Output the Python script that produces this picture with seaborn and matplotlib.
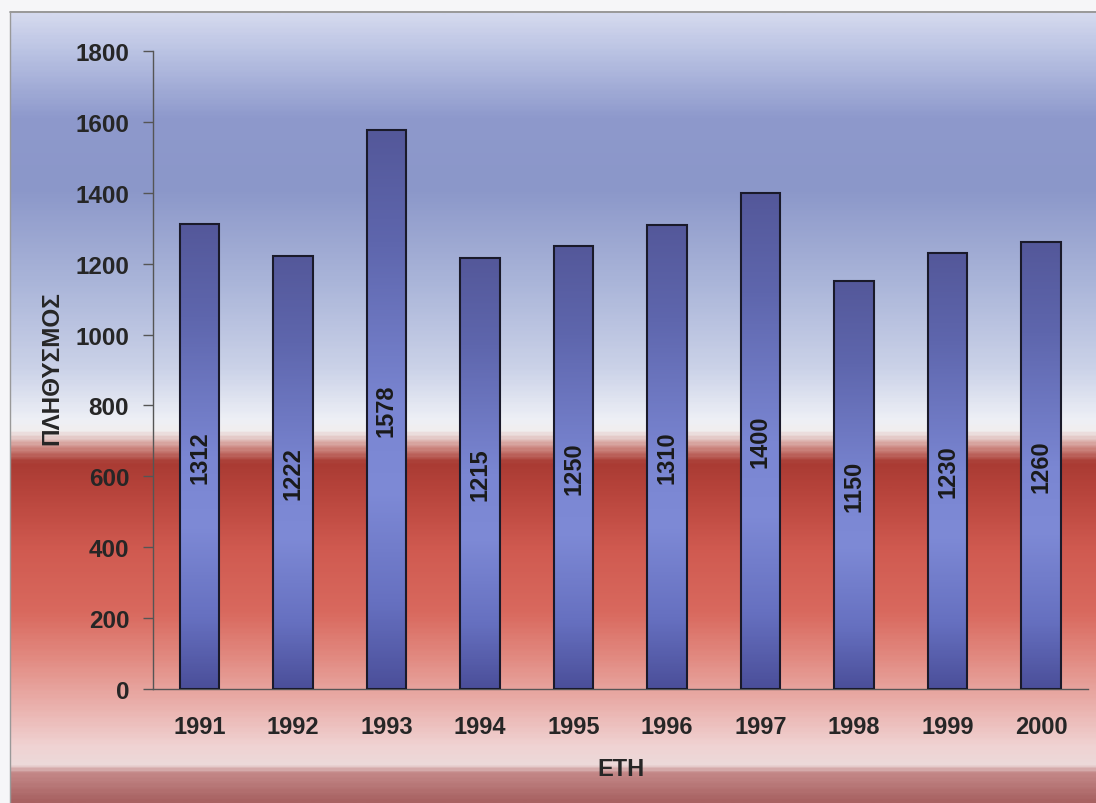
import numpy as np
import pandas as pd
import matplotlib
matplotlib.use("Agg")
import matplotlib.pyplot as plt
import seaborn as sns
from matplotlib.colors import LinearSegmentedColormap

years = ['1991', '1992', '1993', '1994', '1995', '1996', '1997', '1998', '1999', '2000']
population = [1312, 1222, 1578, 1215, 1250, 1310, 1400, 1150, 1230, 1260]
y_ticks = [0, 200, 400, 600, 800, 1000, 1200, 1400, 1600, 1800]

df = pd.DataFrame({'year': years, 'pop': population})

sns.set_theme(style='white')
plt.rcParams['font.family'] = ['Liberation Sans', 'DejaVu Sans']
plt.rcParams['font.weight'] = 'bold'

# background: blue sky fading to white, then red band fading to pink
bg_stops = [(0.00, '#d4d9ee'), (0.05, '#b8c1e2'), (0.13, '#8e99cc'), (0.22, '#8b97c9'),
            (0.34, '#aab5d9'), (0.45, '#cbd2e8'), (0.515, '#eef0f6'), (0.53, '#f1eeee'),
            (0.55, '#cf8c86'), (0.57, '#a93b33'), (0.60, '#b5423a'), (0.68, '#d05a50'),
            (0.76, '#d9695e'), (0.82, '#e28b82'), (0.88, '#eab1ad'), (0.93, '#f0d2d2'),
            (0.955, '#ecdada'), (0.965, '#c48888'), (1.00, '#a86262')]
bg_cmap = LinearSegmentedColormap.from_list('bg', bg_stops)
bar_stops = [(0.0, '#54589a'), (0.2, '#5e66ad'), (0.5, '#7a86d2'), (0.65, '#7e8ad6'),
             (0.85, '#6670c0'), (1.0, '#4b4f9a')]
bar_cmap = LinearSegmentedColormap.from_list('bar', bar_stops)

fig = plt.figure(figsize=(10.96, 8.04), dpi=100)
fig.patch.set_facecolor('#f6f6f8')
bg = fig.add_axes([10 / 1096, 0, 1 - 10 / 1096, (804 - 14) / 804], zorder=-1)
bg.imshow(np.linspace(0, 1, 400).reshape(-1, 1), cmap=bg_cmap, aspect='auto',
          extent=[0, 1, 0, 1])
bg.set_axis_off()
fig.add_artist(plt.Line2D([10 / 1096, 1], [1 - 13 / 804] * 2, color='#888888', lw=1.2))
fig.add_artist(plt.Line2D([10 / 1096] * 2, [0, 1 - 13 / 804], color='#999999', lw=1.0))

ax = fig.add_axes([152.75 / 1096, 114 / 804, 935 / 1096, 638 / 804])
ax.patch.set_alpha(0)
sns.barplot(data=df, x='year', y='pop', ax=ax, width=0.42, color='#6a74c4',
            edgecolor='#1a1a2a', linewidth=1.5, zorder=3)

# vertical gradient inside each bar
for p in ax.patches:
    x0, w, h = p.get_x(), p.get_width(), p.get_height()
    im = ax.imshow(np.linspace(0, 1, 200).reshape(-1, 1), cmap=bar_cmap, aspect='auto',
                   extent=[x0, x0 + w, 0, h], zorder=3.5)
    im.set_clip_path(p)
    p.set_facecolor('none')
    p.set_zorder(4)

for p, v in zip(ax.patches, population):
    ax.text(p.get_x() + p.get_width() / 2, p.get_height() / 2, str(v), rotation=90,
            ha='center', va='center', fontsize=17, fontweight='bold', color='#1a1a1a', zorder=5)

ax.set_xlim(-0.5, len(years) - 0.5)
ax.set_ylim(0, 1800)
ax.set_yticks(y_ticks)
ax.set_yticklabels([str(t) for t in y_ticks], fontsize=17.5, fontweight='bold')
ax.set_xticks(range(len(years)))
ax.set_xticklabels(years, fontsize=17, fontweight='bold')
ax.set_xticks(np.arange(-0.5, len(years)), minor=True)
ax.tick_params(axis='x', which='major', length=0, pad=19)
ax.tick_params(axis='x', which='minor', length=7, width=1, color='#555555', direction='out')
ax.tick_params(axis='y', length=7, width=1, color='#555555', direction='out', pad=10,
               left=True)
for s in ['top', 'right']:
    ax.spines[s].set_visible(False)
for s in ['left', 'bottom']:
    ax.spines[s].set_color('#555555')
    ax.spines[s].set_linewidth(1.0)

ax.set_xlabel('ΕΤΗ', fontsize=17, fontweight='bold')
ax.xaxis.set_label_coords((621 - 152.75) / 935, -(758 - 690) / 638)
ax.set_ylabel('ΠΛΗΘΥΣΜΟΣ', fontsize=17.5, fontweight='bold')
ax.yaxis.set_label_coords(-(152.75 - 63) / 935, (690 - 368) / 638)

fig.savefig('out.png', dpi=100)
